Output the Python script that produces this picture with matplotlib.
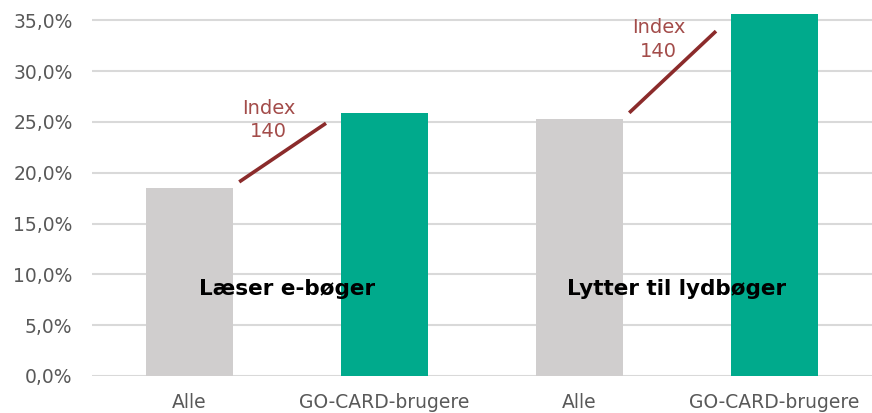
import matplotlib.pyplot as plt
from matplotlib.ticker import FuncFormatter

plt.rcParams['font.family'] = ['DejaVu Sans']

# Data
groups = ['Læser e-bøger', 'Lytter til lydbøger']
labels = ['Alle', 'GO-CARD-brugere', 'Alle', 'GO-CARD-brugere']
values = [18.5, 25.9, 25.3, 35.6]
index_labels = ['140', '140']

bar_colors = ['#d0cece', '#00aa8c', '#d0cece', '#00aa8c']

fig = plt.figure(figsize=(8.72, 4.13), dpi=100)
ax = fig.add_axes([0.1055, 0.0896, 0.8945, 0.9104])

x = list(range(len(values)))
ax.bar(x, values, width=0.45, color=bar_colors, zorder=3)

ax.set_xlim(-0.5, 3.5)
ax.set_ylim(0, 37)
ax.set_yticks([0, 5, 10, 15, 20, 25, 30, 35])
ax.yaxis.set_major_formatter(FuncFormatter(lambda v, p: f'{v:.1f}%'.replace('.', ',')))
ax.set_xticks(x)
ax.set_xticklabels(labels)
ax.tick_params(axis='both', length=0, labelsize=13.5, colors='#595959')
ax.tick_params(axis='x', pad=12)
ax.tick_params(axis='y', pad=14)
ax.grid(axis='y', color='#d9d9d9', linewidth=1.5, zorder=0)
for s in ax.spines.values():
    s.set_visible(False)

# Gruppetekster og index-linjer
for g in range(len(groups)):
    i = 2 * g
    alle = values[i]
    go = values[i + 1]
    ax.text(i + 0.5, 8.6, groups[g], ha='center', va='center',
            fontsize=15.5, fontweight='bold', color='black', zorder=4)
    y0 = alle + 0.6
    y1 = y0 + 0.78 * (go - alle)
    ax.plot([i + 0.255, i + 0.70], [y0, y1], color='#8b2b2b', linewidth=2.6,
            solid_capstyle='butt', zorder=4)
    ax.text(i + 0.405, (y0 + y1) / 2 + 3.2, 'Index\n' + index_labels[g],
            ha='center', va='center', fontsize=14, color='#a34c4a',
            linespacing=1.3, zorder=4)

plt.savefig('out.png', dpi=100)
